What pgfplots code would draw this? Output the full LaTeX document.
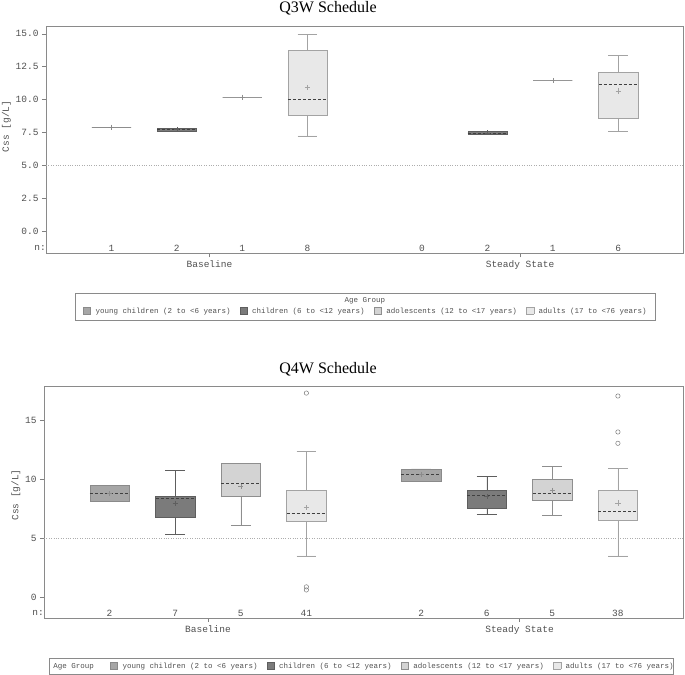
\documentclass[border=0pt]{standalone}
\usepackage{pgfplots}
\pgfplotsset{compat=1.18}
\usepgfplotslibrary{statistics}
\usepackage{fontspec}
\setmainfont{Liberation Serif}
\newfontfamily\mono{Liberation Mono}

\definecolor{frame}{HTML}{8A8A8A}
\definecolor{axisc}{HTML}{808080}
\definecolor{tickc}{HTML}{505050}
\definecolor{medc}{HTML}{404040}
\definecolor{avgc}{HTML}{505050}
\definecolor{aF}{HTML}{A6A6A6}\definecolor{aD}{HTML}{8A8A8A}
\definecolor{bF}{HTML}{7B7B7B}\definecolor{bD}{HTML}{5E5E5E}
\definecolor{cF}{HTML}{D3D3D3}\definecolor{cD}{HTML}{8E8E8E}
\definecolor{dF}{HTML}{E8E8E8}\definecolor{dD}{HTML}{A3A3A3}

\newcommand{\tk}{\mono\fontsize{9.5bp}{11bp}\selectfont}
\newcommand{\lgf}{\mono\fontsize{7.5bp}{9bp}\selectfont}
\newcommand{\sq}[2]{{\setlength{\fboxsep}{0pt}\setlength{\fboxrule}{0.6bp}\fcolorbox{#2}{#1}{\rule{0pt}{6.5bp}\hspace{6.5bp}}}}

\pgfplotsset{
  css/.style={
    scale only axis, clip=false,
    xmin=0, xmax=9.75,
    axis line style={draw=frame},
    tick style={draw=axisc},
    tick align=outside, major tick length=4bp,
    tick pos=left,
    xtick={2.5,7.25}, xticklabels={Baseline,Steady State},
    ticklabel style={font=\tk, text=tickc},
    ylabel={Css [g/L]}, ylabel style={font=\tk, text=tickc}, ylabel shift=-2bp,
    /pgf/number format/assume math mode=true,
    boxplot/draw direction=y,
    boxplot/box extend=0.6,
    boxplot/whisker extend=0.3,
    boxplot/every median/.style={dashed, dash pattern=on 3bp off 2bp, draw=medc},
    boxplot/every average/.style={/tikz/mark=+, /tikz/mark size=2.6bp, /tikz/color=avgc,
      /tikz/draw=avgc, /tikz/solid, /tikz/line width=0.7bp,
      /tikz/every mark/.append style={draw=avgc, line width=0.7bp}},
  },
  single/.style={boxplot/every median/.style={draw=none}},
  outl/.style={mark=o, mark size=2.2bp, mark options={draw=dD!75!black, line width=0.5bp}},
  nlab/.style={draw=none, mark=none, nodes near coords, point meta=explicit symbolic,
    every node near coord/.append style={anchor=center, font=\tk, text=tickc}},
}

\begin{document}
\begin{tikzpicture}
\useasboundingbox (0,0) rectangle (685bp,675bp);

% ---------------- Q3W ----------------
\node[font=\fontsize{16bp}{18bp}\selectfont] at (328bp,666.5bp) {Q3W Schedule};
\begin{axis}[css, at={(46bp,421.7bp)}, anchor=south west,
  width=637.5bp, height=226.6bp,
  ymin=-1.7, ymax=15.53,
  ytick={0,2.5,5,7.5,10,12.5,15},
  yticklabel style={/pgf/number format/.cd, fixed, fixed zerofill, precision=1},
  ylabel style={at={(ticklabel cs:0.56)}},
]
\addplot[dotted, draw=frame!70] coordinates {(0,5) (9.75,5)};
% young children
\addplot[single, boxplot prepared={draw position=1, lower whisker=7.88, lower quartile=7.88,
  median=7.88, upper quartile=7.88, upper whisker=7.88, average=7.88}, draw=aD, fill=aF] coordinates {};
% children
\addplot[boxplot prepared={draw position=2, lower whisker=7.62, lower quartile=7.62,
  median=7.71, upper quartile=7.80, upper whisker=7.80, average=7.71}, draw=bD, fill=bF] coordinates {};
% adolescents
\addplot[single, boxplot prepared={draw position=3, lower whisker=10.17, lower quartile=10.17,
  median=10.17, upper quartile=10.17, upper whisker=10.17, average=10.17}, draw=cD, fill=cF] coordinates {};
% adults
\addplot[boxplot prepared={draw position=4, lower whisker=7.22, lower quartile=8.78,
  median=10.0, upper quartile=13.75, upper whisker=14.95, average=10.9}, draw=dD, fill=dF] coordinates {};
% steady state
\addplot[boxplot prepared={draw position=6.75, lower whisker=7.34, lower quartile=7.34,
  median=7.46, upper quartile=7.58, upper whisker=7.58, average=7.46}, draw=bD, fill=bF] coordinates {};
\addplot[single, boxplot prepared={draw position=7.75, lower whisker=11.45, lower quartile=11.45,
  median=11.45, upper quartile=11.45, upper whisker=11.45, average=11.45}, draw=cD, fill=cF] coordinates {};
\addplot[boxplot prepared={draw position=8.75, lower whisker=7.58, lower quartile=8.55,
  median=11.12, upper quartile=12.09, upper whisker=13.34, average=10.64}, draw=dD, fill=dF] coordinates {};
% n row
\addplot[nlab] table[meta=n] {
x y n
1 -1.3 1
2 -1.3 2
3 -1.3 1
4 -1.3 8
5.75 -1.3 0
6.75 -1.3 2
7.75 -1.3 1
8.75 -1.3 6
};
\node[anchor=east, font=\tk, text=tickc, inner sep=0pt] at (axis cs:0,-1.3) {n:\hspace{6bp}};
\end{axis}

\node[draw=frame, line width=0.6bp, minimum width=580bp, minimum height=27bp, inner sep=0pt,
  align=center, font=\lgf, text=tickc] at (365bp,368.5bp)
  {Age Group\\[2bp]
   \sq{aF}{aD} young children (2 to <6 years)\hspace{5bp}
   \sq{bF}{bD} children (6 to <12 years)\hspace{5bp}
   \sq{cF}{cD} adolescents (12 to <17 years)\hspace{5bp}
   \sq{dF}{dD} adults (17 to <76 years)};

% ---------------- Q4W ----------------
\node[font=\fontsize{16bp}{18bp}\selectfont] at (328bp,305.5bp) {Q4W Schedule};
\begin{axis}[css, at={(44bp,57bp)}, anchor=south west,
  width=639.5bp, height=232bp,
  ymin=-1.78, ymax=17.9,
  ytick={0,5,10,15},
  ylabel style={at={(ticklabel cs:0.53)}},
]
\addplot[dotted, draw=frame!70] coordinates {(0,5) (9.75,5)};
\addplot[boxplot prepared={draw position=1, lower whisker=8.1, lower quartile=8.1,
  median=8.77, upper quartile=9.47, upper whisker=9.47, average=8.77}, draw=aD, fill=aF] coordinates {};
\addplot[boxplot prepared={draw position=2, lower whisker=5.32, lower quartile=6.79,
  median=8.38, upper quartile=8.56, upper whisker=10.75, average=7.95}, draw=bD, fill=bF] coordinates {};
\addplot[boxplot prepared={draw position=3, lower whisker=6.06, lower quartile=8.52,
  median=9.63, upper quartile=11.31, upper whisker=11.36, average=9.36}, draw=cD, fill=cF] coordinates {};
\addplot[outl, boxplot prepared={draw position=4, lower whisker=3.5, lower quartile=6.41,
  median=7.08, upper quartile=9.02, upper whisker=12.33, average=7.58}, draw=dD, fill=dF]
  table[row sep=\\, y index=0] {data\\ 17.3\\ 0.86\\ 0.6\\};
\addplot[boxplot prepared={draw position=5.75, lower whisker=9.86, lower quartile=9.86,
  median=10.4, upper quartile=10.88, upper whisker=10.88, average=10.4}, draw=aD, fill=aF] coordinates {};
\addplot[boxplot prepared={draw position=6.75, lower whisker=7.03, lower quartile=7.54,
  median=8.67, upper quartile=9.09, upper whisker=10.23, average=8.52}, draw=bD, fill=bF] coordinates {};
\addplot[boxplot prepared={draw position=7.75, lower whisker=6.92, lower quartile=8.18,
  median=8.83, upper quartile=10.03, upper whisker=11.1, average=9.03}, draw=cD, fill=cF] coordinates {};
\addplot[outl, boxplot prepared={draw position=8.75, lower whisker=3.5, lower quartile=6.55,
  median=7.29, upper quartile=9.09, upper whisker=10.94, average=7.98}, draw=dD, fill=dF]
  table[row sep=\\, y index=0] {data\\ 17.05\\ 14.0\\ 13.04\\};
\addplot[nlab] table[meta=n] {
x y n
1 -1.35 2
2 -1.35 7
3 -1.35 5
4 -1.35 41
5.75 -1.35 2
6.75 -1.35 6
7.75 -1.35 5
8.75 -1.35 38
};
\node[anchor=east, font=\tk, text=tickc, inner sep=0pt] at (axis cs:0,-1.35) {n:\hspace{6bp}};
\end{axis}

\node[draw=frame, line width=0.6bp, minimum width=623bp, minimum height=16bp, inner sep=0pt,
  font=\lgf, text=tickc] at (361.5bp,9bp)
  {\hspace{4bp}Age Group\hspace{12bp}
   \sq{aF}{aD} young children (2 to <6 years)\hspace{5bp}
   \sq{bF}{bD} children (6 to <12 years)\hspace{5bp}
   \sq{cF}{cD} adolescents (12 to <17 years)\hspace{5bp}
   \sq{dF}{dD} adults (17 to <76 years)};
\end{tikzpicture}
\end{document}
